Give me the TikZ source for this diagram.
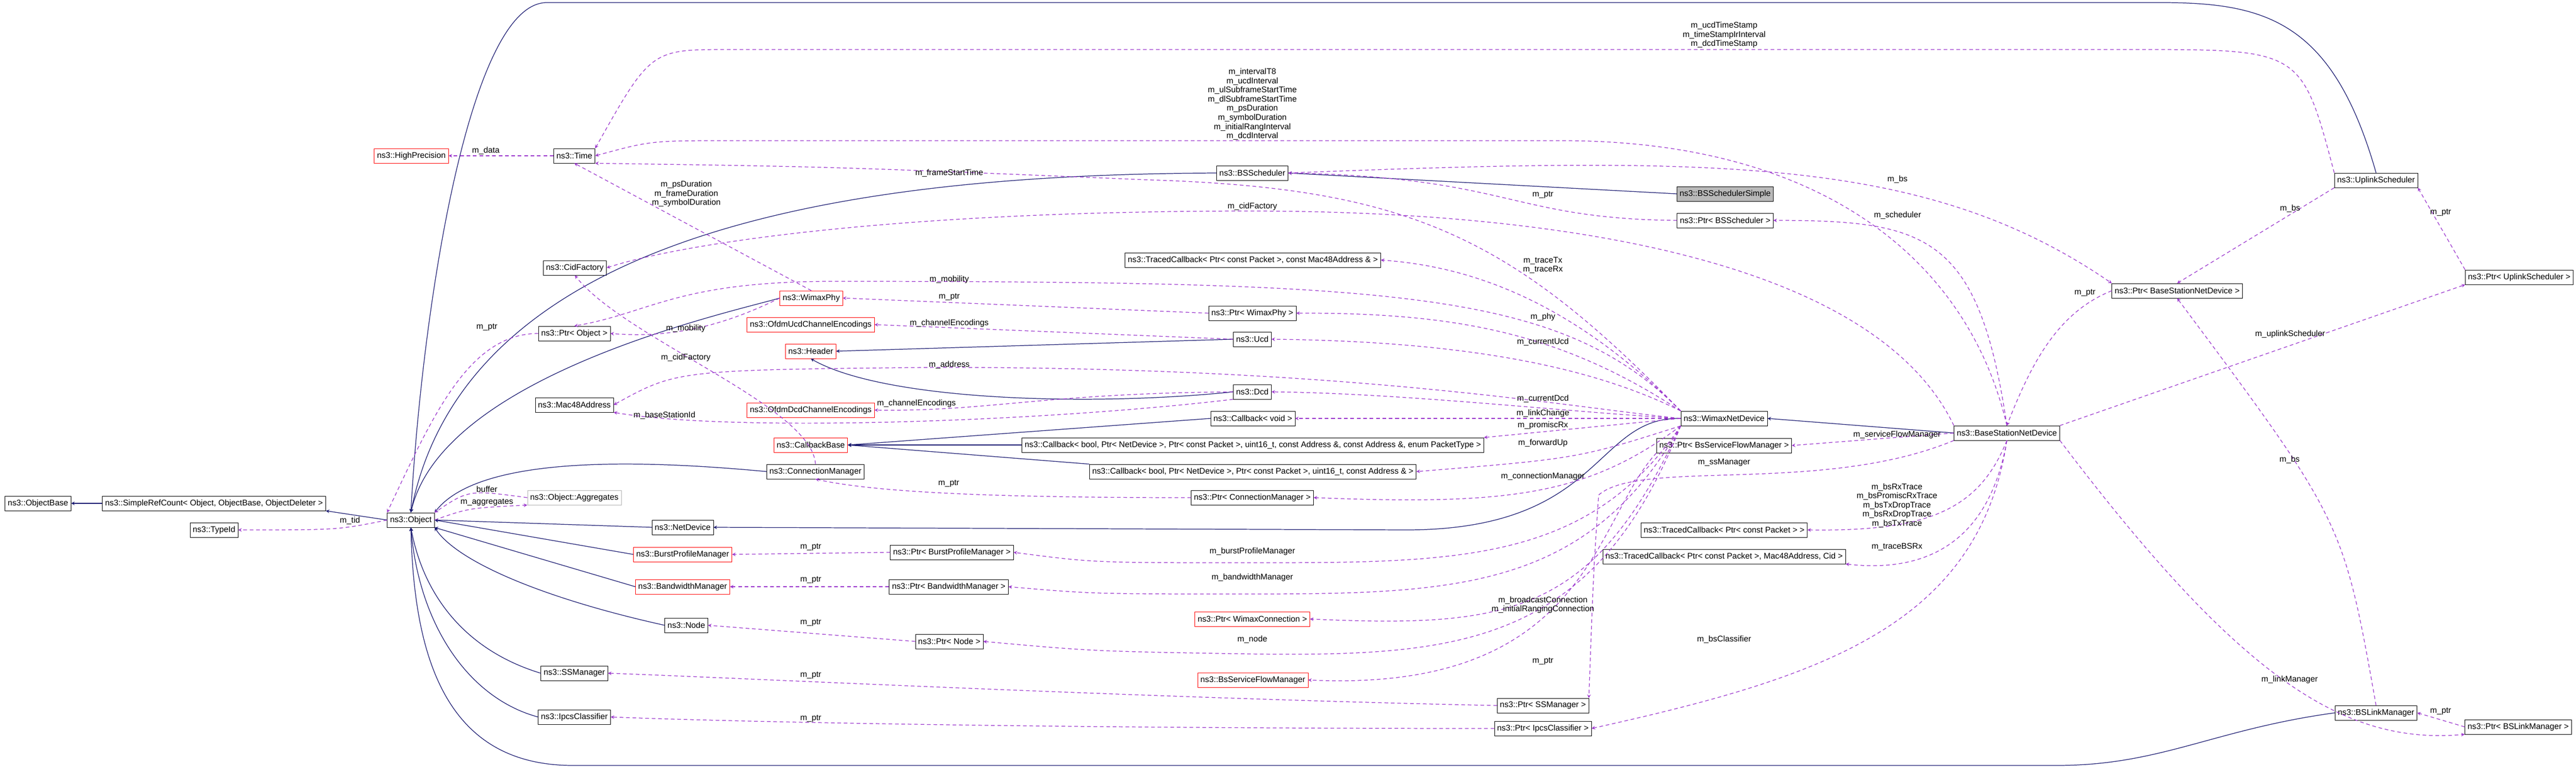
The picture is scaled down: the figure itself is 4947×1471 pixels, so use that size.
\documentclass[tikz,border=0pt]{standalone}
\usepackage{fontspec}
\setmainfont{Liberation Sans}
\usetikzlibrary{arrows}
\definecolor{navy}{rgb}{0.1,0.1,0.44}
\definecolor{violet}{rgb}{0.6,0.2,0.8}

\begin{document}
\begin{tikzpicture}[
            x = 0.02cm, y = -0.02cm, % one unit per pixel
            > = stealth, % arrow head style
            cls/.style = {draw, fill = white, font = \fontsize{9}{10}\selectfont,
                          minimum height = 0.56cm, inner xsep = 3pt, inner ysep = 1pt},
            redcls/.style = {cls, draw = red},
            grycls/.style = {cls, draw = gray!60},
            hl/.style = {cls, fill = gray!55},
            inh/.style = {->, draw = navy, line width = 0.7pt},
            dep/.style = {->, draw = violet, dash pattern = on 4pt off 3pt, line width = 0.7pt},
            lbl/.style = {font = \fontsize{9}{10}\selectfont, align = center, inner sep = 0pt}
            ]
        \useasboundingbox (0,0) rectangle (4947,1471);

	% left column
        \node[cls] (OB) at (73,966) {ns3::ObjectBase};
        \node[cls] (SRC) at (411,966) {ns3::SimpleRefCount< Object, ObjectBase, ObjectDeleter >};
        \node[cls] (TID) at (411,1017) {ns3::TypeId};
        \node[cls] (Obj) at (789,998) {ns3::Object};
        \node[grycls] (Agg) at (1103,955) {ns3::Object::Aggregates};
        \node[redcls] (HP) at (790,299) {ns3::HighPrecision};
        \node[cls] (Time) at (1103,299) {ns3::Time};
        \node[cls] (CidF) at (1104,514) {ns3::CidFactory};
        \node[cls] (PObj) at (1103,640) {ns3::Ptr< Object >};
        \node[cls] (Mac) at (1103,777) {ns3::Mac48Address};
        \node[cls] (SSM) at (1103,1292) {ns3::SSManager};
        \node[cls] (Ipcs) at (1103,1376) {ns3::IpcsClassifier};

	% middle column
        \node[redcls] (Phy) at (1558,572) {ns3::WimaxPhy};
        \node[redcls] (OUcd) at (1557,623) {ns3::OfdmUcdChannelEncodings};
        \node[redcls] (Hdr) at (1557,674) {ns3::Header};
        \node[redcls] (ODcd) at (1557,787) {ns3::OfdmDcdChannelEncodings};
        \node[redcls] (CB) at (1557,854) {ns3::CallbackBase};
        \node[cls] (CM) at (1566,905) {ns3::ConnectionManager};
        \node[cls] (ND) at (1311,1012) {ns3::NetDevice};
        \node[redcls] (BPM) at (1311,1064) {ns3::BurstProfileManager};
        \node[redcls] (BWM) at (1311,1126) {ns3::BandwidthManager};
        \node[cls] (Node) at (1318,1200) {ns3::Node};
        \node[cls] (PBPM) at (1828,1060) {ns3::Ptr< BurstProfileManager >};
        \node[cls] (PBWM) at (1822,1126) {ns3::Ptr< BandwidthManager >};
        \node[cls] (PNode) at (1823,1231) {ns3::Ptr< Node >};

	% pointers and callbacks
        \node[cls] (BSS) at (2405,332) {ns3::BSScheduler};
        \node[cls] (TCmac) at (2406,499) {ns3::TracedCallback< Ptr< const Packet >, const Mac48Address \& >};
        \node[cls] (PPhy) at (2405,601) {ns3::Ptr< WimaxPhy >};
        \node[cls] (Ucd) at (2405,651) {ns3::Ucd};
        \node[cls] (Dcd) at (2405,752) {ns3::Dcd};
        \node[cls] (CBv) at (2406,803) {ns3::Callback< void >};
        \node[cls] (CBl) at (2406,854) {ns3::Callback< bool, Ptr< NetDevice >, Ptr< const Packet >, uint16\_t, const Address \&, const Address \&, enum PacketType >};
        \node[cls] (CBs) at (2406,905) {ns3::Callback< bool, Ptr< NetDevice >, Ptr< const Packet >, uint16\_t, const Address \& >};
        \node[cls] (PCM) at (2405,955) {ns3::Ptr< ConnectionManager >};
        \node[redcls] (PWC) at (2405,1188) {ns3::Ptr< WimaxConnection >};
        \node[redcls] (BSFM) at (2406,1305) {ns3::BsServiceFlowManager};
        \node[cls] (PSSM) at (2963,1354) {ns3::Ptr< SSManager >};
        \node[cls] (PIpcs) at (2963,1398) {ns3::Ptr< IpcsClassifier >};

	% net devices
        \node[hl] (BSSS) at (3313,372) {ns3::BSSchedulerSimple};
        \node[cls] (PBSS) at (3313,423) {ns3::Ptr< BSScheduler >};
        \node[cls] (WND) at (3311,803) {ns3::WimaxNetDevice};
        \node[cls] (PBSFM) at (3311,855) {ns3::Ptr< BsServiceFlowManager >};
        \node[cls] (TCp) at (3311,1017) {ns3::TracedCallback< Ptr< const Packet > >};
        \node[cls] (TCpmc) at (3311,1068) {ns3::TracedCallback< Ptr< const Packet >, Mac48Address, Cid >};
        \node[cls] (BSND) at (3854,831) {ns3::BaseStationNetDevice};
        \node[cls] (PBSND) at (4181,558) {ns3::Ptr< BaseStationNetDevice >};
        \node[cls] (US) at (4563,346) {ns3::UplinkScheduler};
        \node[cls] (PUS) at (4838,532) {ns3::Ptr< UplinkScheduler >};
        \node[cls] (BSLM) at (4563,1368) {ns3::BSLinkManager};
        \node[cls] (PBSLM) at (4836,1395) {ns3::Ptr< BSLinkManager >};

	% inheritance
        \draw[inh] (SRC) -- (OB);
        \draw[inh] (Obj.west) -- (SRC.south east);
        \draw[inh] (US.north) .. controls (4480,40) and (4350,5) .. (4150,5) -- (1050,5) .. controls (900,5) and (810,600) .. (Obj.north);
        \draw[inh] (BSS.west) .. controls (1700,335) and (900,420) .. (Obj.north);
        \draw[inh] (Phy.west) .. controls (1400,600) and (850,720) .. (Obj.north);
        \draw[inh] (CM.west) .. controls (1100,870) and (900,900) .. (Obj.north east);
        \draw[inh] (ND.west) -- (Obj.east);
        \draw[inh] (BPM.west) -- (Obj.east);
        \draw[inh] (BWM.west) -- (Obj.south east);
        \draw[inh] (Node.west) .. controls (1050,1150) and (880,1080) .. (Obj.south east);
        \draw[inh] (SSM.west) .. controls (900,1250) and (815,1150) .. (Obj.south);
        \draw[inh] (Ipcs.west) .. controls (900,1340) and (805,1200) .. (Obj.south);
        \draw[inh] (BSLM.west) .. controls (4250,1400) and (4150,1469) .. (3950,1469) -- (1100,1469) .. controls (850,1469) and (795,1250) .. (Obj.south);
        \draw[inh] (Ucd.west) -- (Hdr.east);
        \draw[inh] (Dcd.west) .. controls (2100,780) and (1700,770) .. (Hdr.south);
        \draw[inh] (CBv.west) -- (CB.east);
        \draw[inh] (CBl.west) -- (CB.east);
        \draw[inh] (CBs.north west) -- (CB.east);
        \draw[inh] (WND.west) .. controls (3060,800) and (3080,1017) .. (2700,1017) -- (ND.east);
        \draw[inh] (BSND.west) -- (WND.east);
        \draw[inh] (BSSS.west) -- (BSS.east);

	% members
        \draw[dep] (Time) -- (HP);
        \draw[dep] (US.north west) .. controls (4420,95) .. (4100,95) -- (1400,95) .. controls (1250,95) .. (Time.north east);
        \draw[dep] (BSND.north) .. controls (3780,500) and (3500,270) .. (3000,270) -- (1400,270) .. controls (1250,270) .. (Time.east);
        \draw[dep] (WND.north west) .. controls (2900,450) and (2700,360) .. (2200,345) .. controls (1600,320) .. (Time.south east);
        \draw[dep] (Phy.north) -- (Time.south);
        \draw[dep] (BSND.north west) .. controls (3600,500) and (3000,405) .. (2400,405) .. controls (1700,405) and (1300,470) .. (CidF.east);
        \draw[dep] (CM.north) .. controls (1560,780) and (1200,650) .. (CidF.south);
        \draw[dep] (WND.north west) .. controls (3000,560) and (2700,540) .. (1600,540) .. controls (1300,540) and (1250,600) .. (PObj.north);
        \draw[dep] (Phy.west) .. controls (1400,620) and (1300,650) .. (PObj.east);
        \draw[dep] (PObj.west) .. controls (900,640) and (830,800) .. (Obj.north west);
        \draw[dep] (PPhy.west) -- (Phy.east);
        \draw[dep] (Ucd.west) -- (OUcd.east);
        \draw[dep] (Dcd.west) .. controls (2000,755) and (1900,790) .. (ODcd.east);
        \draw[dep] (WND.west) .. controls (3000,780) and (2600,705) .. (1800,705) .. controls (1300,710) .. (Mac.east);
        \draw[dep] (Dcd.south west) .. controls (2000,810) and (1400,830) .. (Mac.south east);
        \draw[dep] (WND.north west) .. controls (3000,560) and (2800,510) .. (TCmac.east);
        \draw[dep] (WND.north west) .. controls (3000,640) and (2800,600) .. (PPhy.east);
        \draw[dep] (WND.north west) .. controls (3050,700) and (2800,655) .. (Ucd.east);
        \draw[dep] (WND.west) .. controls (3000,790) and (2700,755) .. (Dcd.east);
        \draw[dep] (WND.west) -- (CBv.east);
        \draw[dep] (WND.west) -- (CBl.north east);
        \draw[dep] (WND.south west) .. controls (3030,880) .. (CBs.east);
        \draw[dep] (WND.south west) .. controls (3050,950) and (2900,970) .. (PCM.east);
        \draw[dep] (PCM.west) .. controls (2000,955) and (1700,950) .. (CM.south);
        \draw[dep] (WND.south west) .. controls (3050,1080) and (2800,1080) .. (2400,1080) .. controls (2100,1080) .. (PBPM.east);
        \draw[dep] (PBPM.west) -- (BPM.east);
        \draw[dep] (WND.south west) .. controls (3050,1130) and (2800,1140) .. (2400,1140) .. controls (2100,1140) .. (PBWM.east);
        \draw[dep] (PBWM.west) -- (BWM.east);
        \draw[dep] (WND.south west) .. controls (3060,1180) and (2900,1205) .. (PWC.east);
        \draw[dep] (WND.south west) .. controls (3060,1240) and (2800,1260) .. (2400,1255) .. controls (2100,1250) .. (PNode.east);
        \draw[dep] (PNode.west) -- (Node.east);
        \draw[dep] (PBSFM.south west) .. controls (3060,1000) and (3050,1330) .. (BSFM.east);
        \draw[dep] (PSSM.west) .. controls (2200,1340) and (1400,1300) .. (SSM.east);
        \draw[dep] (PIpcs.west) .. controls (2000,1398) and (1400,1385) .. (Ipcs.east);
        \draw[dep] (BSND.south west) .. controls (3500,950) and (3150,880) .. (3070,950) .. controls (3060,1100) .. (PSSM.north east);
        \draw[dep] (BSND.west) -- (PBSFM.east);
        \draw[dep] (BSND.south) .. controls (3800,980) and (3700,1020) .. (TCp.east);
        \draw[dep] (BSND.south) .. controls (3820,1040) and (3700,1100) .. (TCpmc.south east);
        \draw[dep] (BSND.south) .. controls (3800,1200) and (3500,1300) .. (PIpcs.east);
        \draw[dep] (BSND.north) .. controls (3800,450) and (3700,423) .. (PBSS.east);
        \draw[dep] (PBSS.west) .. controls (2900,420) and (2900,340) .. (BSS.east);
        \draw[dep] (BSS.east) .. controls (3300,300) and (3700,300) .. (PBSND.north west);
        \draw[dep] (US.south west) -- (PBSND.north);
        \draw[dep] (BSLM.north) .. controls (4500,1000) .. (PBSND.south);
        \draw[dep] (PBSND.west) .. controls (3950,600) and (3900,700) .. (BSND.north);
        \draw[dep] (BSND.north east) -- (PUS.south west);
        \draw[dep] (PUS.north west) -- (US.south east);
        \draw[dep] (BSND.south east) .. controls (4300,1300) and (4500,1430) .. (PBSLM.south west);
        \draw[dep] (PBSLM.west) -- (BSLM.east);
        \draw[dep] (Obj.west) .. controls (650,1017) .. (TID.east);
        \draw[dep] (Obj.east) .. controls (900,975) .. (Agg.south west);
        \draw[dep] (Agg.west) .. controls (900,940) .. (Obj.north east);

	% labels
        \node[lbl] (lData) at (933,289) {m\_data};
        \node[lbl] (lUcdTs) at (3311,67) {m\_ucdTimeStamp\\m\_timeStampIrInterval\\m\_dcdTimeStamp};
        \node[lbl] (lT8) at (2405,200) {m\_intervalT8\\m\_ucdInterval\\m\_ulSubframeStartTime\\m\_dlSubframeStartTime\\m\_psDuration\\m\_symbolDuration\\m\_initialRangInterval\\m\_dcdInterval};
        \node[lbl] (lFst) at (1823,332) {m\_frameStartTime};
        \node[lbl] (lPsd) at (1318,372) {m\_psDuration\\m\_frameDuration\\m\_symbolDuration};
        \node[lbl] (lCid) at (2405,396) {m\_cidFactory};
        \node[lbl] (lCid2) at (1317,686) {m\_cidFactory};
        \node[lbl] (lMob) at (1823,536) {m\_mobility};
        \node[lbl] (lMob2) at (1317,630) {m\_mobility};
        \node[lbl] (lPObj) at (935,628) {m\_ptr};
        \node[lbl] (lPPhy) at (1823,570) {m\_ptr};
        \node[lbl] (lUEnc) at (1823,620) {m\_channelEncodings};
        \node[lbl] (lDEnc) at (1760,774) {m\_channelEncodings};
        \node[lbl] (lAddr) at (1823,700) {m\_address};
        \node[lbl] (lBsId) at (1276,797) {m\_baseStationId};
        \node[lbl] (lTrc) at (2963,509) {m\_traceTx\\m\_traceRx};
        \node[lbl] (lPhy) at (2963,608) {m\_phy};
        \node[lbl] (lUcd) at (2963,656) {m\_currentUcd};
        \node[lbl] (lDcd) at (2963,765) {m\_currentDcd};
        \node[lbl] (lLink) at (2963,793) {m\_linkChange};
        \node[lbl] (lProm) at (2963,816) {m\_promiscRx};
        \node[lbl] (lFwd) at (2963,850) {m\_forwardUp};
        \node[lbl] (lCM) at (2963,914) {m\_connectionManager};
        \node[lbl] (lPCM) at (1822,928) {m\_ptr};
        \node[lbl] (lBPM) at (2405,1058) {m\_burstProfileManager};
        \node[lbl] (lPBPM) at (1557,1050) {m\_ptr};
        \node[lbl] (lBWM) at (2405,1108) {m\_bandwidthManager};
        \node[lbl] (lPBWM) at (1557,1113) {m\_ptr};
        \node[lbl] (lConn) at (2963,1161) {m\_broadcastConnection\\m\_initialRangingConnection};
        \node[lbl] (lNode) at (2405,1227) {m\_node};
        \node[lbl] (lPNode) at (1557,1195) {m\_ptr};
        \node[lbl] (lPBSFM) at (2963,1269) {m\_ptr};
        \node[lbl] (lPSSM) at (1557,1296) {m\_ptr};
        \node[lbl] (lPIpcs) at (1557,1379) {m\_ptr};
        \node[lbl] (lSSM) at (3311,888) {m\_ssManager};
        \node[lbl] (lSFM) at (3643,834) {m\_serviceFlowManager};
        \node[lbl] (lBsTr) at (3643,970) {m\_bsRxTrace\\m\_bsPromiscRxTrace\\m\_bsTxDropTrace\\m\_bsRxDropTrace\\m\_bsTxTrace};
        \node[lbl] (lBSRx) at (3643,1050) {m\_traceBSRx};
        \node[lbl] (lCls) at (3311,1227) {m\_bsClassifier};
        \node[lbl] (lSch) at (3644,413) {m\_scheduler};
        \node[lbl] (lPBSS) at (2963,374) {m\_ptr};
        \node[lbl] (lBs) at (3644,344) {m\_bs};
        \node[lbl] (lBs2) at (4398,400) {m\_bs};
        \node[lbl] (lBs3) at (4397,882) {m\_bs};
        \node[lbl] (lPBSND) at (4004,562) {m\_ptr};
        \node[lbl] (lUS) at (4398,641) {m\_uplinkScheduler};
        \node[lbl] (lPUS) at (4687,408) {m\_ptr};
        \node[lbl] (lLM) at (4397,1304) {m\_linkManager};
        \node[lbl] (lPBSLM) at (4687,1365) {m\_ptr};
        \node[lbl] (lTid) at (672,999) {m\_tid};
        \node[lbl] (lAggr) at (935,964) {m\_aggregates};
        \node[lbl] (lBuf) at (935,939) {buffer};
  \end{tikzpicture}
\end{document}
